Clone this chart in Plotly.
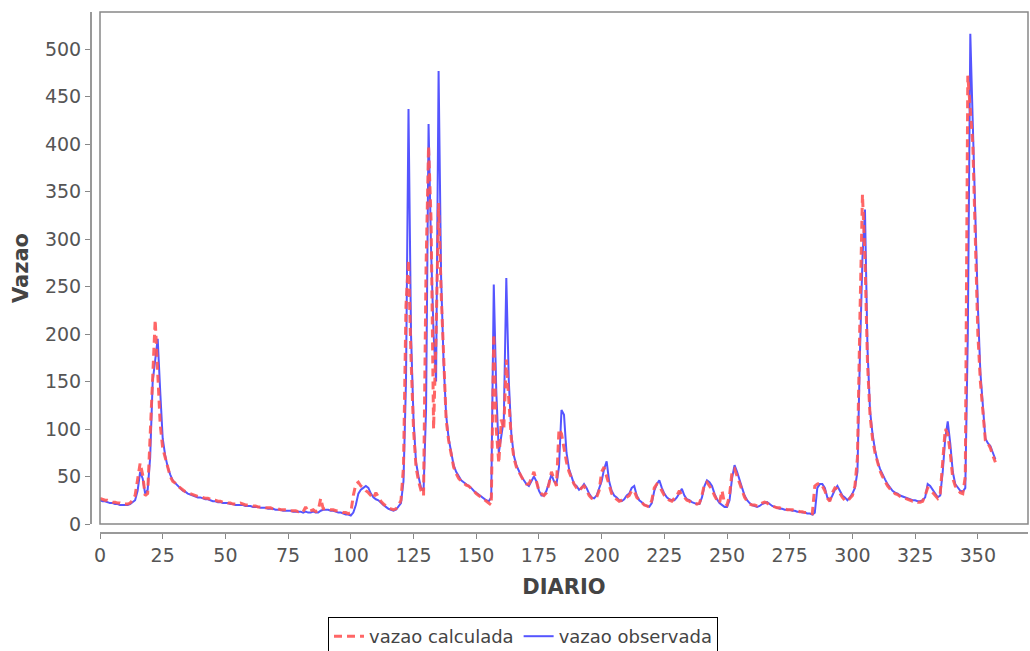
import plotly.graph_objects as go

days = list(range(0, 358))

observada = [
    25, 24, 24, 23, 22, 22, 21, 21, 20, 20,
    20, 20, 21, 23, 25, 35, 55, 48, 32, 36,
    70, 150, 175, 195, 140, 90, 72, 60, 52, 46,
    43, 40, 37, 35, 34, 32, 31, 30, 29, 28,
    28, 27, 26, 26, 25, 24, 24, 23, 23, 22,
    22, 22, 21, 21, 20, 20, 20, 20, 19, 19,
    19, 18, 18, 18, 17, 17, 17, 16, 16, 16,
    15, 15, 15, 14, 14, 14, 14, 13, 13, 13,
    13, 12, 13, 12, 12, 13, 12, 12, 14, 15,
    15, 15, 14, 14, 13, 12, 12, 11, 10, 10,
    9, 12, 20, 32, 36, 38, 40, 38, 32, 28,
    26, 25, 22, 20, 18, 16, 15, 14, 15, 18,
    22, 45, 150, 437, 200, 110, 65, 50, 38, 35,
    120, 421, 290, 200, 150, 477, 260, 170, 115, 90,
    75, 62, 55, 50, 46, 44, 42, 40, 38, 35,
    33, 31, 29, 27, 25, 24, 28, 252, 140, 75,
    95, 110, 259, 150, 95, 72, 62, 55, 50, 46,
    42, 40, 45, 50, 45, 35, 30, 30, 35, 45,
    52, 45, 42, 60, 120, 115, 75, 58, 50, 42,
    40, 36, 38, 42, 38, 32, 28, 27, 30, 38,
    45, 58, 66, 45, 35, 30, 28, 25, 24, 26,
    30, 32, 38, 40, 30, 25, 23, 20, 19, 18,
    22, 35, 42, 46, 38, 32, 28, 26, 25, 25,
    28, 33, 37, 30, 26, 25, 23, 22, 21, 21,
    28, 40, 46, 44, 40, 32, 26, 22, 20, 18,
    18, 25, 48, 62, 55, 45, 38, 30, 25, 22,
    20, 19, 18, 19, 21, 22, 23, 21, 19, 18,
    17, 16, 16, 15, 15, 15, 14, 14, 13, 13,
    12, 12, 11, 11, 10, 12, 38, 42, 42, 38,
    28, 25, 30, 36, 40, 35, 30, 28, 25, 28,
    32, 38, 55, 180, 280, 331, 185, 120, 95, 78,
    66, 58, 52, 47, 42, 38, 35, 33, 32, 30,
    29, 28, 27, 26, 25, 25, 24, 24, 25, 28,
    42, 40, 36, 32, 28, 30, 55, 90, 108, 85,
    55, 42, 38, 35, 34, 38, 200, 516, 420, 320,
    230, 160, 125, 90, 85, 82, 75, 68,
]

calculada = [
    27, 26, 25, 25, 24, 23, 23, 22, 22, 21,
    21, 21, 22, 25, 30, 45, 64, 52, 30, 32,
    95, 140, 215, 160, 105, 80, 70, 60, 50, 45,
    43, 40, 38, 36, 34, 33, 32, 31, 30, 29,
    29, 28, 27, 27, 26, 25, 25, 24, 24, 23,
    23, 22, 22, 21, 21, 21, 22, 21, 20, 20,
    20, 19, 19, 18, 18, 18, 17, 17, 17, 16,
    16, 16, 15, 15, 15, 15, 14, 14, 14, 13,
    14, 13, 18, 13, 14, 15, 13, 14, 27, 16,
    16, 16, 15, 15, 14, 14, 13, 12, 12, 11,
    12, 30, 42, 44, 40, 38, 35, 33, 30, 27,
    33, 28, 24, 21, 19, 17, 16, 15, 16, 19,
    25, 60, 230, 278, 175, 100, 60, 45, 35, 30,
    270, 398, 320, 100, 200, 338, 245, 170, 110, 88,
    72, 60, 53, 48, 45, 43, 41, 40, 37, 34,
    32, 30, 28, 26, 24, 22, 20, 200, 100, 64,
    110, 100, 173, 130, 90, 70, 60, 55, 50, 45,
    42, 42, 48, 55, 45, 35, 32, 30, 33, 42,
    55, 48, 40, 100, 95, 80, 65, 55, 48, 42,
    38, 35, 38, 40, 36, 30, 27, 26, 28, 35,
    55, 60, 50, 40, 32, 28, 26, 24, 25, 26,
    28, 30, 35, 35, 28, 25, 22, 20, 19, 18,
    25, 38, 42, 40, 35, 30, 27, 25, 24, 27,
    30, 35, 30, 28, 25, 24, 22, 22, 21, 22,
    30, 42, 44, 40, 36, 30, 25, 22, 35, 22,
    20, 30, 55, 58, 50, 42, 35, 28, 24, 21,
    20, 20, 19, 20, 22, 23, 22, 20, 19, 18,
    17, 17, 16, 16, 15, 15, 15, 14, 14, 13,
    13, 12, 12, 12, 11, 40, 42, 43, 40, 35,
    27, 24, 33, 38, 37, 32, 28, 25, 24, 27,
    30, 40, 70, 220, 347, 280, 170, 115, 90, 75,
    64, 56, 50, 45, 40, 37, 34, 32, 31, 29,
    28, 27, 26, 25, 24, 24, 23, 23, 24, 30,
    38, 36, 33, 30, 27, 32, 70, 100, 95, 75,
    48, 40, 36, 33, 32, 50, 472, 440, 400, 300,
    200, 150, 115, 88, 85, 80, 72, 65,
]

x_ticks = [0, 25, 50, 75, 100, 125, 150, 175, 200, 225, 250, 275, 300, 325, 350]
y_ticks = [0, 50, 100, 150, 200, 250, 300, 350, 400, 450, 500]

W, H = 1030, 651
ml, mr, mt, mb = 91, 2, 12, 118
pw = W - ml - mr
ph = H - mt - mb
gap = 9

fig = go.Figure()
fig.add_trace(go.Scatter(
    x=days, y=observada, mode="lines", name="vazao observada",
    line=dict(color="rgb(85,85,255)", width=2),
))
fig.add_trace(go.Scatter(
    x=days, y=calculada, mode="lines", name="vazao calculada",
    line=dict(color="rgba(255,85,85,0.9)", width=3, dash="8px,5px"),
))

axis_font = dict(family="DejaVu Sans", size=19, color="#555555")
title_font = dict(family="DejaVu Sans", size=21, color="#444444", weight="bold")

fig.update_layout(
    width=W, height=H,
    margin=dict(l=ml, r=mr, t=mt, b=mb, autoexpand=False),
    paper_bgcolor="white", plot_bgcolor="white",
    showlegend=True,
    legend=dict(
        orientation="h", x=(523 - ml) / pw, xanchor="center",
        y=(mt + ph - 617) / ph, yanchor="top",
        bordercolor="black", borderwidth=1,
        font=dict(family="DejaVu Sans", size=18, color="#444444"),
        traceorder="reversed", itemwidth=30,
    ),
    xaxis=dict(
        domain=[gap / pw, 1], range=[0, 370], anchor="free", position=0,
        automargin=False,
        tickvals=x_ticks, ticks="outside", ticklen=5, tickcolor="#888888",
        showline=True, linecolor="#999999", linewidth=2,
        showgrid=False, zeroline=False, tickfont=axis_font,
        title=dict(text="DIARIO", font=title_font, standoff=14),
    ),
    yaxis=dict(
        domain=[gap / ph, 1], range=[0, 539], anchor="free", position=0,
        automargin=False,
        tickvals=y_ticks, ticks="outside", ticklen=5, tickcolor="#888888",
        showline=True, linecolor="#999999", linewidth=2,
        showgrid=False, zeroline=False, tickfont=axis_font,
        title=dict(text="Vazao", font=title_font, standoff=10),
    ),
    shapes=[dict(
        type="rect", xref="x domain", yref="y domain", x0=0, x1=1, y0=0, y1=1,
        line=dict(color="#888888", width=1.5), fillcolor="rgba(0,0,0,0)", layer="above",
    )],
)

fig.write_html(
    "out.html",
    config={"displayModeBar": False},
    post_script="document.body.style.margin='0';document.body.style.overflow='hidden';",
)
